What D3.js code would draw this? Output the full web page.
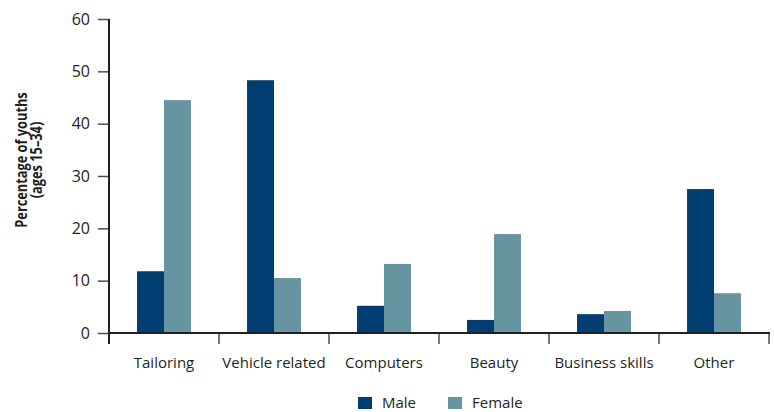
<!DOCTYPE html>
<html>
<head>
<meta charset="utf-8">
<script src="https://cdn.jsdelivr.net/npm/d3@7"></script>
<style>
  body { margin: 0; background: #fff; }
  svg { display: block; }
  text { font-family: "Open Sans", "DejaVu Sans", sans-serif; fill: #231f20; }
</style>
</head>
<body>
<svg id="chart" width="774" height="412"></svg>
<script>
const categories = ["Tailoring", "Vehicle related", "Computers", "Beauty", "Business skills", "Other"];
const seriesNames = ["Male", "Female"];
const maleValues = [11.8, 48.3, 5.2, 2.5, 3.6, 27.5];
const femaleValues = [44.5, 10.5, 13.2, 18.9, 4.2, 7.6];
const yTicks = [0, 10, 20, 30, 40, 50, 60];
const yTitle = ["Percentage of youths", "(ages 15\u201334)"];

(function () {
const colors = { Male: "#003e71", Female: "#6694a1" };
const axisColor = "#231f20";

const svg = d3.select("#chart");
const mLeft = 109, mRight = 769, mTop = 19, mBottom = 333;

const x = d3.scaleBand().domain(categories).range([mLeft, mRight]).padding(0);
const xs = d3.scaleBand().domain(seriesNames).range([0, x.bandwidth()]).paddingInner(0).paddingOuter(1.04);
const y = d3.scaleLinear().domain([0, 60]).range([mBottom, mTop]);

const data = categories.map((c, i) => ({ cat: c, Male: maleValues[i], Female: femaleValues[i] }));

// bars
const g = svg.append("g");
g.selectAll("g.cat").data(data).join("g")
  .attr("class", "cat")
  .attr("transform", d => `translate(${x(d.cat)},0)`)
  .selectAll("rect").data(d => seriesNames.map(s => ({ s, v: d[s] }))).join("rect")
  .attr("x", d => xs(d.s))
  .attr("width", xs.bandwidth())
  .attr("y", d => y(d.v))
  .attr("height", d => y(0) - y(d.v))
  .attr("fill", d => colors[d.s]);

// y axis
const yAxis = d3.axisLeft(y).tickValues(yTicks).tickSize(11).tickPadding(8).tickSizeOuter(0);
const ya = svg.append("g").attr("transform", `translate(${mLeft},0)`).call(yAxis);
ya.select(".domain").remove();
ya.selectAll(".tick line").attr("stroke", "#4d4d4d").attr("stroke-width", 1.5);
ya.selectAll(".tick text").style("font-size", "16px").attr("fill", axisColor);

// x axis boundary ticks
const bounds = categories.map(c => x(c)).concat([x.range()[1]]);
svg.append("g").selectAll("line").data(bounds).join("line")
  .attr("x1", d => d).attr("x2", d => d)
  .attr("y1", y(0)).attr("y2", y(0) + 11)
  .attr("stroke", "#4d4d4d").attr("stroke-width", 1.5);

// axis lines
svg.append("line")
  .attr("x1", mLeft).attr("x2", mLeft)
  .attr("y1", y(60)).attr("y2", y(0) + 11)
  .attr("stroke", axisColor).attr("stroke-width", 2);
svg.append("line")
  .attr("x1", mLeft - 1).attr("x2", mRight + 1)
  .attr("y1", y(0)).attr("y2", y(0))
  .attr("stroke", axisColor).attr("stroke-width", 2.2);

// category labels
svg.append("g").selectAll("text").data(categories).join("text")
  .attr("x", d => x(d) + x.bandwidth() / 2)
  .attr("y", 368)
  .attr("text-anchor", "middle")
  .style("font-size", "15px")
  .text(d => d);

// y title (condensed look)
const yt = svg.append("text")
  .attr("transform", `translate(0,160) rotate(-90) scale(0.8,1)`)
  .attr("text-anchor", "middle")
  .style("font-size", "16px")
  .style("font-weight", "bold");
yt.selectAll("tspan").data(yTitle).join("tspan")
  .attr("x", 0)
  .attr("y", (d, i) => 27 + i * 15.5)
  .text(d => d);

// legend
const legendX = [358, 448];
const leg = svg.append("g").selectAll("g").data(seriesNames).join("g")
  .attr("transform", (d, i) => `translate(${legendX[i]},397)`);
leg.append("rect").attr("width", 14).attr("height", 12).attr("fill", d => colors[d]);
leg.append("text").attr("x", 24).attr("y", 11).style("font-size", "15px").text(d => d);
})();
</script>
</body>
</html>
